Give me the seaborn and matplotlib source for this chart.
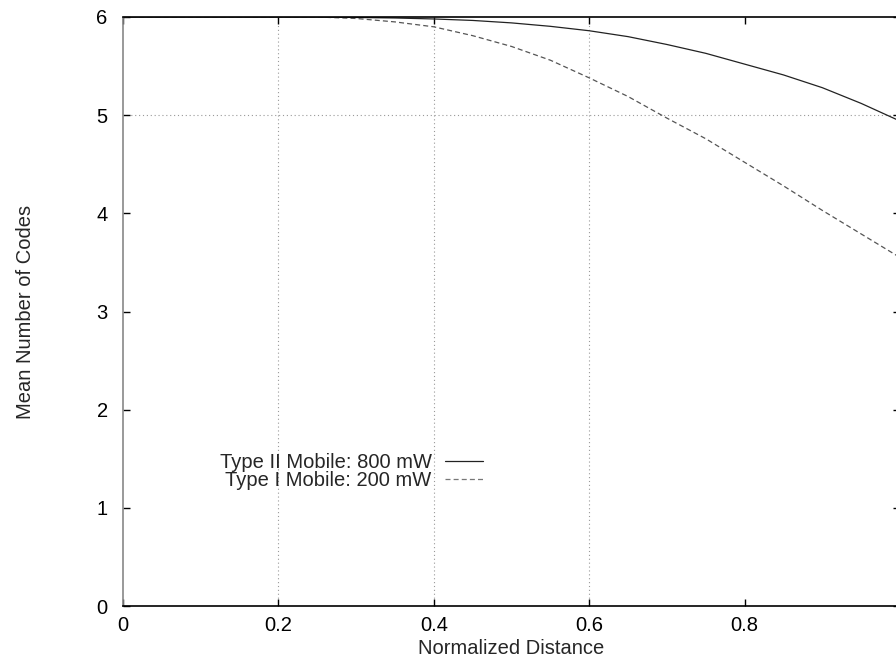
import numpy as np
import pandas as pd
import matplotlib
matplotlib.use("Agg")
import matplotlib.pyplot as plt
import seaborn as sns

# Normalized distance samples
distance = [0.00, 0.05, 0.10, 0.15, 0.20, 0.25, 0.30, 0.35, 0.40, 0.45, 0.50,
            0.55, 0.60, 0.65, 0.70, 0.75, 0.80, 0.85, 0.90, 0.95, 1.00]

# Mean number of codes, Type II mobile (800 mW)
codes_type2 = [6.00, 6.00, 6.00, 6.00, 6.00, 6.00, 5.995, 5.99, 5.98, 5.965, 5.94,
               5.905, 5.86, 5.80, 5.72, 5.63, 5.52, 5.41, 5.28, 5.12, 4.94]

# Mean number of codes, Type I mobile (200 mW)
codes_type1 = [6.00, 6.00, 6.00, 6.00, 6.00, 6.00, 5.985, 5.95, 5.90, 5.81, 5.70,
               5.56, 5.38, 5.19, 4.97, 4.76, 4.52, 4.28, 4.03, 3.79, 3.55]

series_labels = ["Type II Mobile: 800 mW", "Type I Mobile: 200 mW"]
x_ticks = [0, 0.2, 0.4, 0.6, 0.8, 1]
x_tick_labels = ["0", "0.2", "0.4", "0.6", "0.8", "1"]
y_ticks = [0, 1, 2, 3, 4, 5, 6]

df = pd.DataFrame({
    "distance": distance * 2,
    "codes": codes_type2 + codes_type1,
    "series": [series_labels[0]] * len(distance) + [series_labels[1]] * len(distance),
})

FS = 14.5

sns.set_theme(style="ticks")
plt.rcParams["font.family"] = ["Liberation Sans", "DejaVu Sans"]
plt.rcParams["font.size"] = FS

fig = plt.figure(figsize=(8.96, 6.6), dpi=100)
ax = fig.add_axes([123 / 896, 54 / 660, 777 / 896, 589 / 660])

sns.lineplot(data=df, x="distance", y="codes", hue="series", style="series",
             palette={series_labels[0]: "#222222", series_labels[1]: "#555555"},
             dashes={series_labels[0]: "", series_labels[1]: (4, 2.5)},
             linewidth=0.9, ax=ax, legend=False)

ax.set_xlim(0, 1)
ax.set_ylim(0, 6)
ax.set_xticks(x_ticks)
ax.set_xticklabels(x_tick_labels)
ax.set_yticks(y_ticks)
ax.set_xlabel("Normalized Distance", fontsize=FS, labelpad=3)
ax.set_ylabel("Mean Number of Codes", fontsize=FS, labelpad=44)

ax.tick_params(direction="in", length=5, width=1, top=True, right=True,
               labelsize=FS, colors="black")
ax.tick_params(axis="x", pad=7)
ax.tick_params(axis="y", pad=11)

for side in ["top", "bottom", "right"]:
    ax.spines[side].set_color("black")
    ax.spines[side].set_linewidth(1.2)
ax.spines["left"].set_color("#888888")
ax.spines["left"].set_linewidth(1.2)
ax.spines["left"].set_linestyle((0, (1, 1)))

# Dotted grid, only some lines survive in this rendering
ax.grid(True, linestyle=(0, (1, 2.5)), color="#999999", linewidth=0.8)
for val, gl in zip(ax.get_xticks(), ax.get_xgridlines()):
    gl.set_visible(round(val, 2) in (0.2, 0.4, 0.6))
for val, gl in zip(ax.get_yticks(), ax.get_ygridlines()):
    gl.set_visible(round(val, 2) == 5)

handles = [
    plt.Line2D([], [], color="#222222", linewidth=0.9),
    plt.Line2D([], [], color="#777777", linewidth=0.9, dashes=(4, 2.5)),
]
ax.legend(handles, series_labels, loc="upper right",
          bbox_to_anchor=((483 - 123) / 777, (606 - 453) / 589),
          frameon=False, markerfirst=False, borderpad=0, borderaxespad=0,
          handlelength=1.9, handletextpad=0.65, labelspacing=-0.05,
          fontsize=FS)

fig.savefig("out.png", dpi=100)
